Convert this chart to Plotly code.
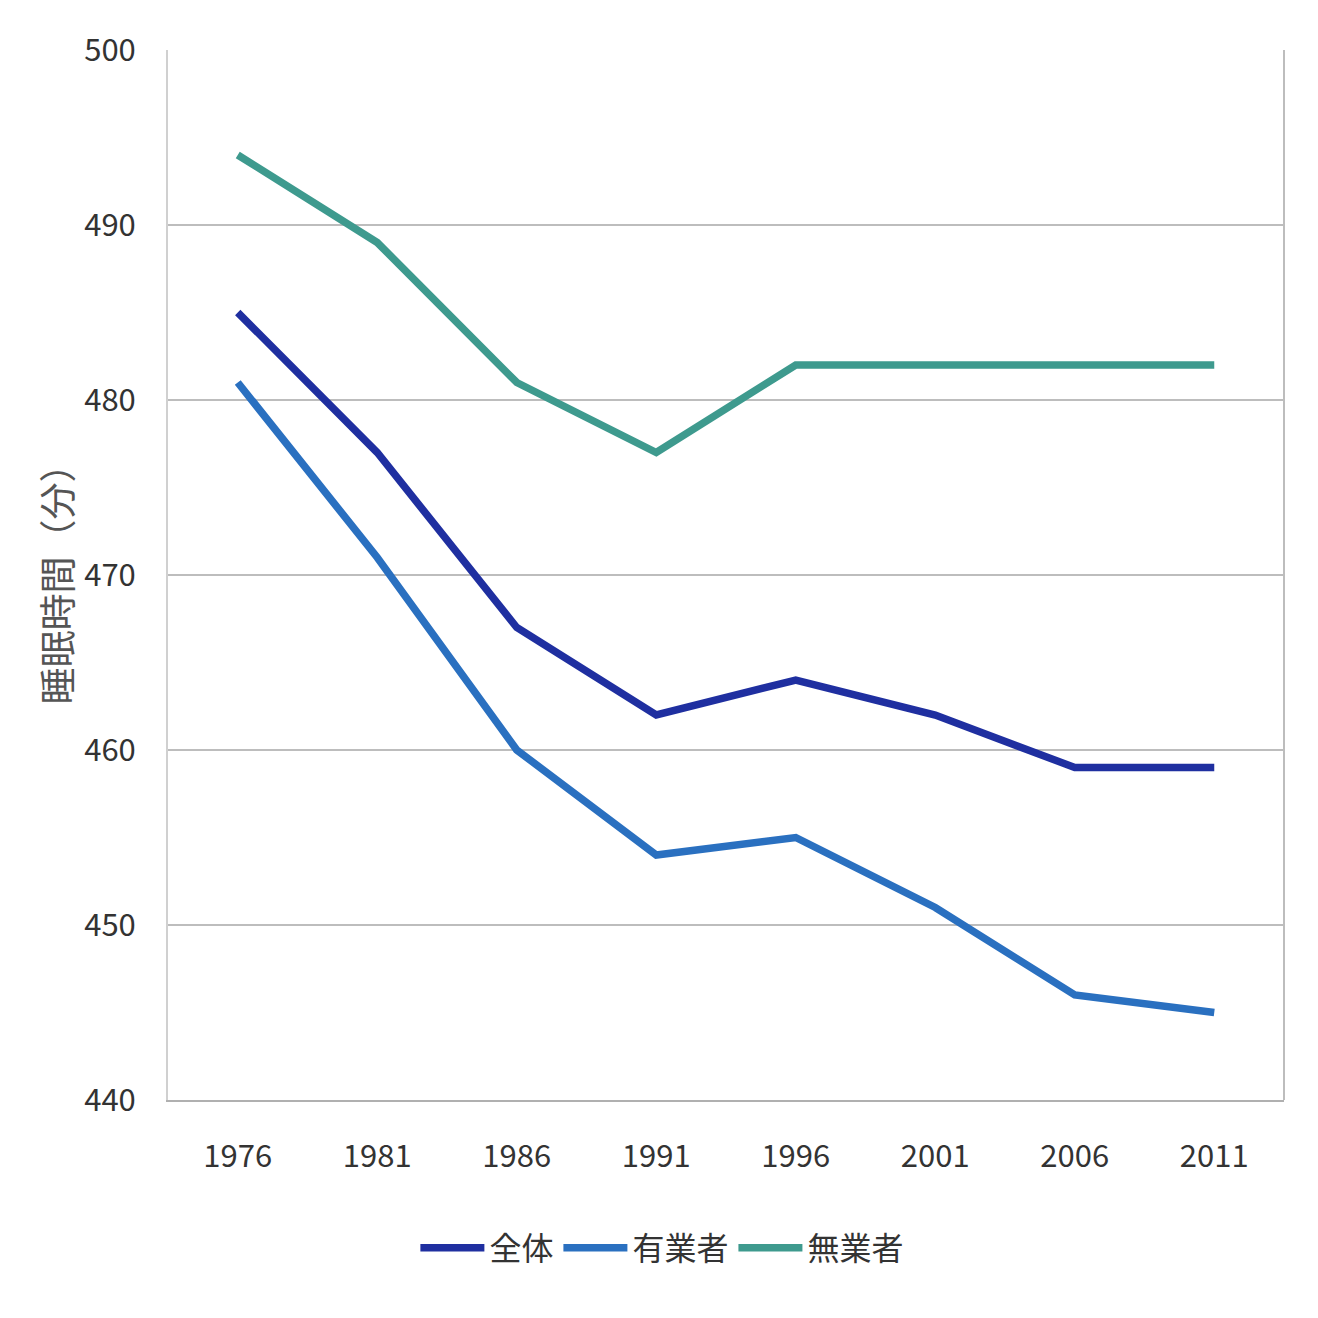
import plotly.graph_objects as go

years = ["1976", "1981", "1986", "1991", "1996", "2001", "2006", "2011"]
total = [485, 477, 467, 462, 464, 462, 459, 459]
employed = [481, 471, 460, 454, 455, 451, 446, 445]
unemployed = [494, 489, 481, 477, 482, 482, 482, 482]

series_names = ["全体", "有業者", "無業者"]
colors = ["#1f2fa0", "#2a70c0", "#3e9a8e"]

FONT = "Noto Sans CJK JP"

fig = go.Figure()
for name, vals, c in zip(series_names, [total, employed, unemployed], colors):
    fig.add_trace(go.Scatter(x=years, y=vals, mode="lines", name=name,
                             line=dict(color=c, width=7.5)))

fig.update_layout(
    width=1318, height=1318,
    margin=dict(l=168, r=34, t=50, b=218),
    paper_bgcolor="white", plot_bgcolor="white",
    font=dict(family=FONT, color="#333333", size=30),
    showlegend=True,
    legend=dict(orientation="h", x=0.443, xanchor="center", y=-0.141, yanchor="middle",
                font=dict(size=32, color="#333333", family=FONT),
                itemwidth=64, traceorder="normal"),
    xaxis=dict(type="category", range=[-0.5, 7.5], showgrid=False,
               showline=True, linecolor="#b0b0b0", linewidth=2, mirror=False,
               ticks="", ticklabelstandoff=28,
               tickfont=dict(size=31, color="#333333", family=FONT)),
    yaxis=dict(range=[440, 500], dtick=10, showgrid=True, gridcolor="#bdbdbd", gridwidth=2,
               showline=True, linecolor="#d0d0d0", linewidth=2, zeroline=False,
               ticks="", ticklabelstandoff=24,
               tickfont=dict(size=31, color="#333333", family=FONT),
               title=dict(text="睡眠時間（分）", standoff=0,
                          font=dict(size=37, color="#555555", family=FONT))),
)
# right border of plot area
fig.add_shape(type="line", xref="paper", yref="paper", x0=1, x1=1, y0=0, y1=1,
              line=dict(color="#bdbdbd", width=2), layer="below")

fig.write_html("out.html")
